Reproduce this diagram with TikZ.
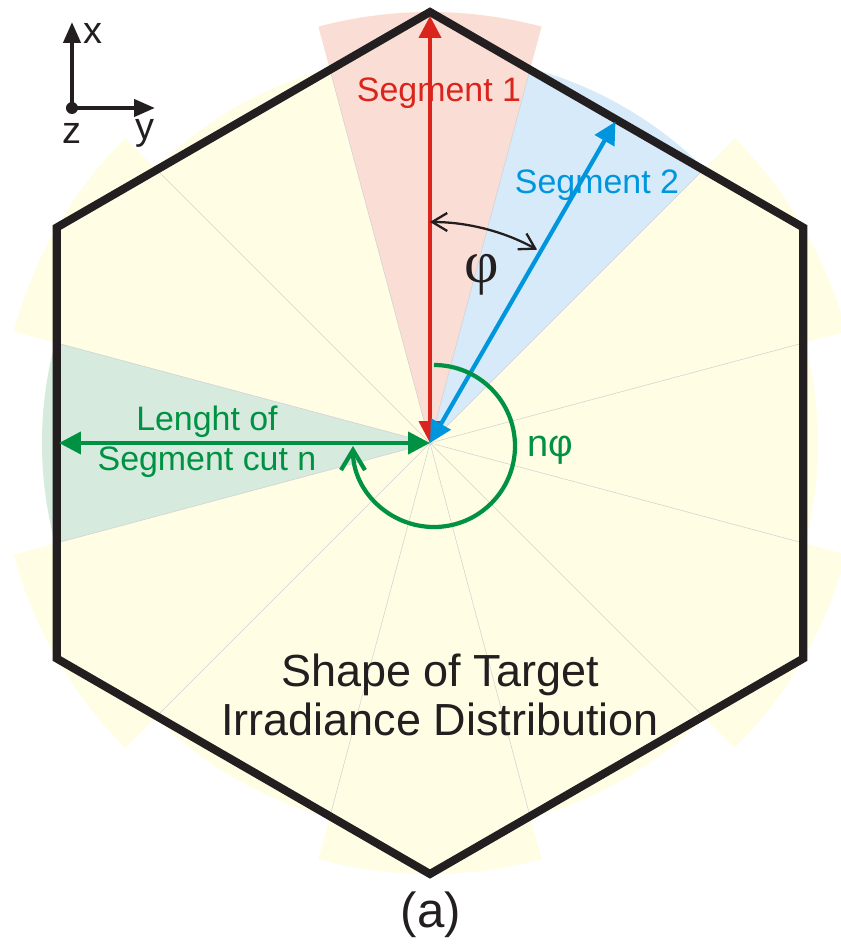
\documentclass[tikz,border=0pt]{standalone}
\usepackage{fontspec}
\setmainfont{Liberation Sans}
\newfontfamily\greekserif{Liberation Serif}
\usetikzlibrary{arrows.meta}

\definecolor{paleyellow}{RGB}{255,253,228}
\definecolor{segred}{RGB}{218,37,29}
\definecolor{segredfill}{RGB}{250,222,213}
\definecolor{segblue}{RGB}{0,150,222}
\definecolor{segbluefill}{RGB}{214,234,249}
\definecolor{seggreen}{RGB}{0,146,66}
\definecolor{seggreenfill}{RGB}{214,234,222}
\definecolor{hexblack}{RGB}{35,31,32}

\tikzset{
  x=0.02cm, y=0.02cm,
  sectorline/.style={draw=black!18, line width=0.3pt},
  hexline/.style={draw=hexblack, line width=4.6pt, line join=miter},
  segarrow/.style={line width=2.4pt,
    {Triangle[length=0.44cm,width=0.44cm]}-{Triangle[length=0.44cm,width=0.44cm]}},
  phiarc/.style={draw=hexblack, line width=1.3pt,
    {Straight Barb[length=0.3cm,width=0.36cm]}-{Straight Barb[length=0.3cm,width=0.36cm]}},
  nphiarc/.style={draw=seggreen, line width=2.4pt,
    -{Straight Barb[length=0.4cm,width=0.48cm]}},
  axisarrow/.style={draw=hexblack, line width=2.4pt,
    -{Triangle[length=0.42cm,width=0.34cm]}},
  seglabel/.style={font=\fontsize{19.3}{22.8}\selectfont, inner sep=0pt, align=center},
  axislabel/.style={font=\fontsize{21.6}{24}\selectfont, text=hexblack, inner sep=0pt},
  bigtext/.style={font=\fontsize{25.6}{27.9}\selectfont, text=hexblack, inner sep=0pt, align=center},
}

\begin{document}
\begin{tikzpicture}
  \useasboundingbox (-430,-504) rectangle (410,443);
  \coordinate (O) at (0,0);

  % twelve segments, 30 degrees each
  \foreach \k in {0,...,11} {
    \pgfmathsetmacro\c{30*\k}
    \pgfmathsetmacro\r{isodd(\k) ? 431 : 388}
    \fill[paleyellow] (O) -- (\c-15:\r) arc[start angle=\c-15, end angle=\c+15, radius=\r] -- cycle;
  }
  \fill[segredfill] (O) -- (75:431) arc[start angle=75, end angle=105, radius=431] -- cycle;
  \fill[segbluefill] (O) -- (45:388) arc[start angle=45, end angle=75, radius=388] -- cycle;
  \fill[seggreenfill] (O) -- (165:388) arc[start angle=165, end angle=195, radius=388] -- cycle;
  \foreach \a in {15,45,...,345}
    \draw[sectorline] (O) -- (\a:386);

  % hexagon
  \foreach \i in {0,...,5}
    \coordinate (v\i) at (90+60*\i:431);
  \draw[hexline] (v0) -- (v1) -- (v2) -- (v3) -- (v4) -- (v5) -- cycle;

  % segments
  \coordinate (s1) at (90:427);
  \coordinate (s2) at (60:371);
  \coordinate (cutn) at (180:371);
  \draw[segarrow, segred] (O) -- (s1);
  \draw[segarrow, segblue] (O) -- (s2);
  \draw[segarrow, seggreen] (O) -- (cutn);

  % angles
  \draw[phiarc] (O) ++(90:221) arc[start angle=90, end angle=61, radius=221];
  \coordinate (nc) at (4,-3);
  \draw[nphiarc] (nc) ++(90:81) arc[start angle=90, end angle=-180, radius=81];

  % labels
  \node[seglabel, text=segred] (seg1) at (9,350) {Segment 1};
  \node[seglabel, text=segblue] (seg2) at (167,258) {Segment 2};
  \node[seglabel, text=seggreen] (cutlabel) at (-223,1) {Lenght of\\Segment cut n};
  \node[font=\fontsize{34}{36}\selectfont\greekserif, text=hexblack, inner sep=0pt] (phi) at (52,168) {φ};
  \node[seglabel, font=\fontsize{21.6}{24}\selectfont, text=seggreen] (nphi) at (120,-7) {nφ};
  \node[bigtext] (target) at (10,-252) {Shape of Target\\Irradiance Distribution};
  \node[bigtext, font=\fontsize{28}{30}\selectfont] (caption) at (1,-472) {(a)};

  % axes
  \coordinate (ax0) at (-358,335);
  \coordinate (axx) at (-358,421);
  \coordinate (axy) at (-275,335);
  \draw[axisarrow] (ax0) -- (axx);
  \draw[axisarrow] (ax0) -- (axy);
  \fill[hexblack] (ax0) circle[radius=6];
  \node[axislabel] (xlab) at (-337,410) {x};
  \node[axislabel] (ylab) at (-285,310) {y};
  \node[axislabel] (zlab) at (-358,310) {z};
\end{tikzpicture}
\end{document}
